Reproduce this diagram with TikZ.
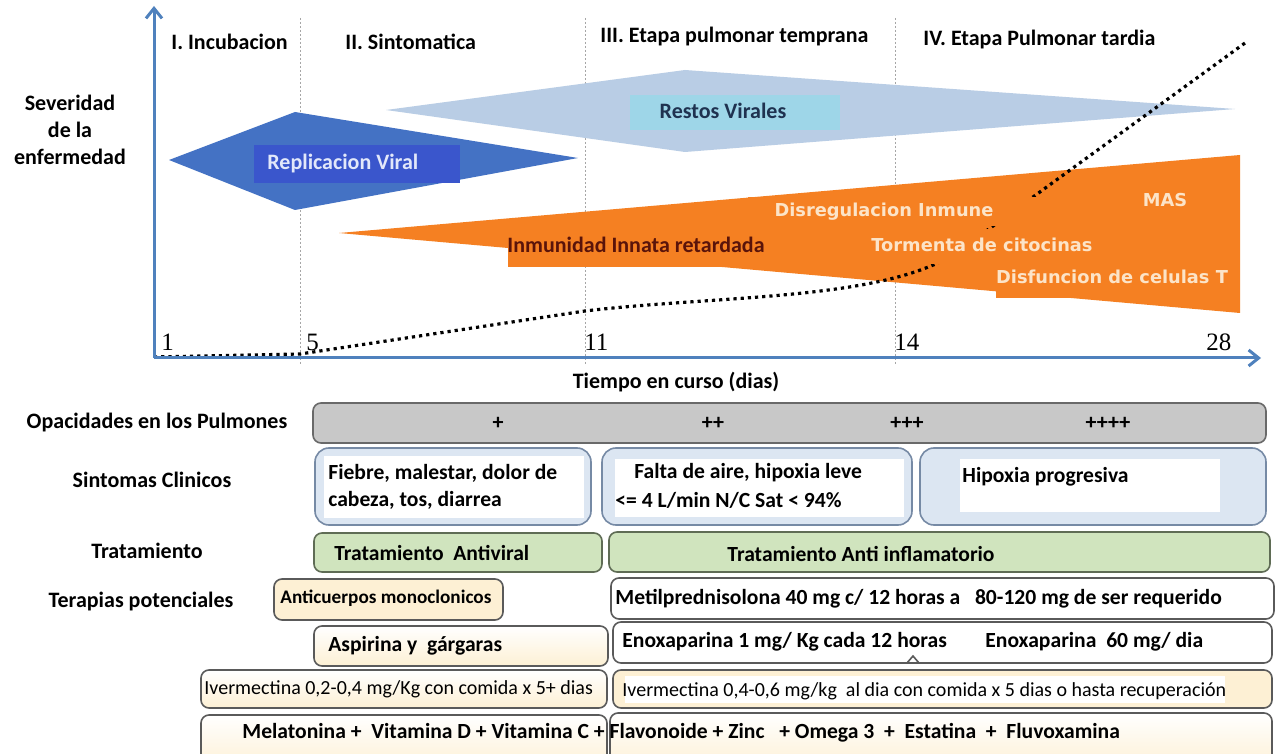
\documentclass[tikz,border=0pt]{standalone}
\usepackage{fontspec}
\setmainfont{Carlito}
\newfontfamily\numfont{Liberation Serif}
\newfontfamily\widefont{DejaVu Sans}
\usepackage{xcolor}
\usepackage{tikz}
\usetikzlibrary{arrows.meta}

\definecolor{axisblue}{RGB}{79,129,189}
\definecolor{repblue}{RGB}{68,114,196}
\definecolor{repbox}{RGB}{58,86,204}
\definecolor{reptext}{RGB}{226,232,250}
\definecolor{restos}{RGB}{185,205,229}
\definecolor{restosbox}{RGB}{158,214,232}
\definecolor{restostext}{RGB}{31,50,80}
\definecolor{immorange}{RGB}{245,128,34}
\definecolor{orangetext}{RGB}{252,228,200}
\definecolor{innatatext}{RGB}{90,20,10}
\definecolor{bargray}{RGB}{200,200,200}
\definecolor{barline}{RGB}{105,105,105}
\definecolor{symfill}{RGB}{220,230,242}
\definecolor{symline}{RGB}{118,138,165}
\definecolor{trtfill}{RGB}{208,228,190}
\definecolor{trtline}{RGB}{95,108,85}
\definecolor{creamfill}{RGB}{253,240,212}
\definecolor{thline}{RGB}{90,90,90}

\tikzstyle{axis}=[line width=1.5pt, draw=axisblue, -{Straight Barb[length=5pt, width=8pt]}]
\tikzstyle{daysep}=[draw=gray!70, line width=0.5pt, dash pattern=on 1pt off 1pt]
\tikzstyle{course}=[draw=black, line width=1.6pt, dash pattern=on 1.6pt off 2pt]
\tikzstyle{phase}=[font=\bfseries\fontsize{11}{13}\selectfont, anchor=west, inner sep=0pt]
\tikzstyle{daynum}=[font=\numfont\fontsize{12.5}{13}\selectfont, anchor=west, inner sep=0pt]
\tikzstyle{inlabel}=[font=\widefont\bfseries\fontsize{8.9}{10}\selectfont, text=orangetext, inner sep=0pt]
\tikzstyle{rowlbl}=[font=\bfseries\fontsize{11}{13.5}\selectfont, inner sep=0pt]
\tikzstyle{boxtxt}=[font=\bfseries\fontsize{10.8}{13.5}\selectfont, anchor=west, inner sep=0pt, align=left]
\tikzstyle{smalltxt}=[font=\fontsize{10}{12}\selectfont, anchor=west, inner sep=0pt]
\tikzstyle{opbar}=[draw=barline, fill=bargray, line width=0.8pt, rounded corners=4pt]
\tikzstyle{symbox}=[draw=symline, fill=symfill, line width=0.8pt, rounded corners=7pt]
\tikzstyle{trtbox}=[draw=trtline, fill=trtfill, line width=0.8pt, rounded corners=4pt]
\tikzstyle{thbox}=[draw=thline, fill=creamfill, line width=0.8pt, rounded corners=4pt]
\tikzstyle{thgrad}=[draw=thline, top color=white, bottom color=creamfill, line width=0.8pt, rounded corners=4pt]
\tikzstyle{thwhite}=[draw=thline, fill=white, line width=0.8pt, rounded corners=4pt]

\begin{document}
\begin{tikzpicture}[x=0.5pt, y=-0.5pt]
        \clip (0,0) rectangle (1276,754);
        \fill[white] (0,0) rectangle (1276,754);

        % Day positions
        \def\dfive{300}
        \def\deleven{585}
        \def\dfourteen{895}

        % Day separators
        \draw[daysep] (\dfive,18) -- (\dfive,364);
        \draw[daysep] (\deleven,18) -- (\deleven,364);
        \draw[daysep] (\dfourteen,18) -- (\dfourteen,364);

        % Phases
        \node[phase] (incub) at (171,42) {I. Incubacion};
        \node[phase] (sinto) at (345,42) {II. Sintomatica};
        \node[phase] (pultemp) at (600,37) {III. Etapa pulmonar temprana};
        \node[phase] (pultard) at (923,40) {IV. Etapa Pulmonar tardia};

        % Severity label
        \node[rowlbl, align=center] (sever) at (70,130) {Severidad\\de la\\enfermedad};

        % Viral replication
        \fill[repblue] (169,160) -- (295,112) -- (578,158) -- (295,210) -- cycle;
        \fill[repbox] (254,145) rectangle (460,183);
        \node[phase, text=reptext] (replic) at (267,164) {Replicacion Viral};

        % Viral remains
        \fill[restos] (386,110) -- (685,70) -- (1235,109) -- (685,152) -- cycle;
        \fill[restosbox] (630,95) rectangle (840,130);
        \node[phase, anchor=center, text=restostext] (restos) at (723,111) {Restos Virales};

        % Immune response
        \fill[immorange] (339,233) -- (1240,155) -- (1240,313) -- cycle;

        % Disease course
        \draw[course] (154,357) -- (\dfive,354) -- (\deleven,311) .. controls (720,295) and (890,301) .. (960,250) -- (1245,43);

        % Immune labels
        \fill[immorange] (508,227) rectangle (780,267);
        \fill[immorange] (748,197) rectangle (1050,226);
        \fill[immorange] (850,229) rectangle (1100,264);
        \fill[immorange] (996,266) rectangle (1240,298);
        \node[phase, anchor=center, text=innatatext] (innata) at (636,245) {Inmunidad Innata retardada};
        \node[inlabel] (disreg) at (884,212) {Disregulacion Inmune};
        \node[inlabel] (torm) at (982,245) {Tormenta de citocinas};
        \node[inlabel] (disf) at (1112,277) {Disfuncion de celulas T};
        \node[inlabel] (mas) at (1165,200) {MAS};

        % Axes
        \coordinate (origin) at (154,358);
        \coordinate (ytop) at (154,6);
        \coordinate (xend) at (1261,358);
        \draw[axis] (origin) -- (ytop);
        \draw[axis] (origin) -- (xend);

        % Days
        \node[daynum] (dayi) at (161,342) {1};
        \node[daynum] (dayv) at (306,342) {5};
        \node[daynum] (dayxi) at (584,342) {11};
        \node[daynum] (dayxiv) at (894,342) {14};
        \node[daynum] (dayxxviii) at (1206,342) {28};
        \node[rowlbl] (tiempo) at (676,382) {Tiempo en curso (dias)};

        % Row labels
        \node[rowlbl] (opac) at (157,423) {Opacidades en los Pulmones};
        \node[rowlbl] (sintc) at (152,480) {Sintomas Clinicos};
        \node[rowlbl] (trat) at (147,551) {Tratamiento};
        \node[rowlbl] (terap) at (141,602) {Terapias potenciales};

        % Lung opacities
        \draw[opbar] (313,403) rectangle (1266,443);
        \node[rowlbl] (opi) at (498,423) {+};
        \node[rowlbl] (opii) at (713,423) {++};
        \node[rowlbl] (opiii) at (907,423) {+++};
        \node[rowlbl] (opiv) at (1108,423) {++++};

        % Clinical symptoms
        \draw[symbox] (315,448) rectangle (591,525);
        \fill[white] (324,456) rectangle (584,518);
        \draw[symbox] (602,448) rectangle (912,525);
        \fill[white] (615,459) rectangle (904,517);
        \draw[symbox] (920,448) rectangle (1266,525);
        \fill[white] (960,459) rectangle (1220,512);
        \node[boxtxt] (symi) at (328,487) {Fiebre, malestar, dolor de\\cabeza, tos, diarrea};
        \node[boxtxt] (symiia) at (634,473) {Falta de aire, hipoxia leve};
        \node[boxtxt] (symiib) at (615,500) {<= 4 L/min N/C Sat < 94\%};
        \node[boxtxt] (symiii) at (962,477) {Hipoxia progresiva};

        % Treatment
        \draw[trtbox] (314,533) rectangle (602,572);
        \draw[trtbox] (609,532) rectangle (1270,572);
        \node[boxtxt] (antivir) at (334,553) {Tratamiento\ \ Antiviral};
        \node[boxtxt, anchor=center] (antiinf) at (861,554) {Tratamiento Anti inflamatorio};

        % Potential therapies
        \draw[thbox] (274,579) rectangle (503,620);
        \node[smalltxt, font=\bfseries\fontsize{9.6}{12}\selectfont] (anticu) at (280,598) {Anticuerpos monoclonicos};
        \draw[thwhite] (611,578) rectangle (1274,619);
        \node[boxtxt] (metil) at (615,599) {Metilprednisolona 40 mg c/ 12 horas a\ \ \ 80-120 mg de ser requerido};

        \draw[thgrad] (314,626) rectangle (608,666);
        \node[boxtxt] (aspir) at (328,646) {Aspirina y\ \ gárgaras};
        \draw[thwhite] (613,622) rectangle (1272,663);
        \draw[draw=thline, line width=0.8pt] (907,663) -- (913,656) -- (919,663);
        \node[boxtxt] (enoxi) at (622,642) {Enoxaparina 1 mg/ Kg cada 12 horas};
        \node[boxtxt] (enoxii) at (985,642) {Enoxaparina\ \ 60 mg/ dia};

        \draw[thgrad] (201,670) rectangle (607,708);
        \node[smalltxt] (iveri) at (204,689) {Ivermectina 0,2-0,4 mg/Kg con comida x 5+ dias};
        \draw[thbox] (613,670) rectangle (1272,708);
        \fill[white] (625,676) rectangle (1225,703);
        \node[smalltxt] (iverii) at (622,691) {Ivermectina 0,4-0,6 mg/kg\ \ al dia con comida x 5 dias o hasta recuperación};

        \draw[thgrad] (201,715) rectangle (607,770);
        \draw[thgrad] (610,713) rectangle (1272,770);
        \node[boxtxt] (suplem) at (242,733) {Melatonina +\ \ Vitamina D + Vitamina C + Flavonoide + Zinc\ \ \ + Omega 3\ \ +\ \ Estatina\ \ +\ \ Fluvoxamina};
\end{tikzpicture}
\end{document}
